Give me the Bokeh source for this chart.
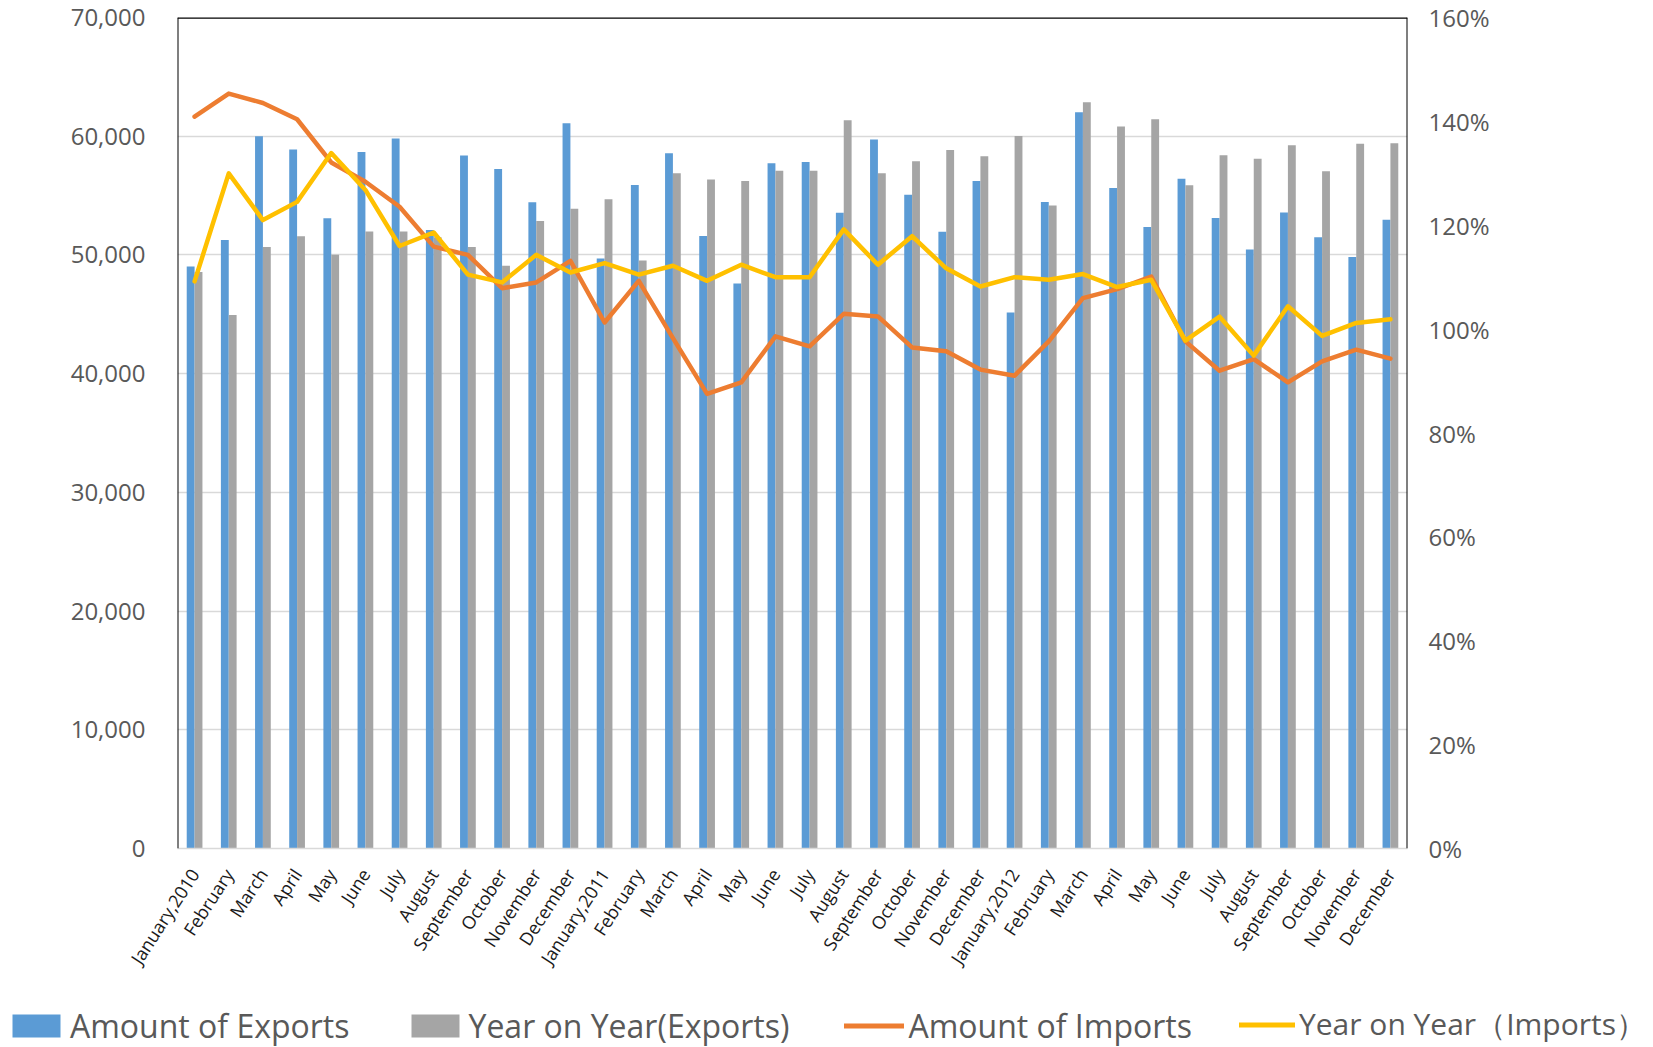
import numpy as np
from bokeh.plotting import figure
from bokeh.models import (Range1d, LinearAxis, FixedTicker, NumeralTickFormatter,
                          PrintfTickFormatter, Span, Legend, LegendItem, ColumnDataSource)
from bokeh.embed import file_html
from bokeh.resources import INLINE

months = ["January,2010", "February", "March", "April", "May", "June", "July", "August",
          "September", "October", "November", "December",
          "January,2011", "February", "March", "April", "May", "June", "July", "August",
          "September", "October", "November", "December",
          "January,2012", "February", "March", "April", "May", "June", "July", "August",
          "September", "October", "November", "December"]

# Amount of Exports (left axis)
exports = [49020, 51260, 60000, 58880, 53080, 58660, 59800, 52100, 58380, 57230, 54430, 61090,
           49690, 55880, 58570, 51600, 47590, 57730, 57820, 53560, 59720, 55070, 51960, 56220,
           45150, 54450, 62020, 55630, 52350, 56410, 53110, 50450, 53580, 51480, 49830, 52970]

# Year on Year (Exports) in % (right axis)
exports_yoy = [111.0, 102.7, 115.8, 117.9, 114.3, 118.8, 118.8, 117.7, 115.8, 112.2, 120.8, 123.2,
               125.0, 113.2, 130.0, 128.8, 128.5, 130.5, 130.5, 140.2, 130.0, 132.3, 134.5, 133.3,
               137.2, 123.8, 143.7, 139.0, 140.4, 127.7, 133.5, 132.8, 135.4, 130.4, 135.7, 135.8]

# Amount of Imports (left axis)
imports = [61650, 63590, 62800, 61430, 57790, 56160, 54060, 50700, 50000, 47200, 47680, 49500,
           44310, 47820, 43000, 38290, 39270, 43140, 42300, 45040, 44820, 42210, 41880, 40340,
           39830, 42720, 46360, 47120, 48180, 42720, 40250, 41230, 39270, 41040, 42020, 41260]

# Year on Year (Imports) in % (right axis)
imports_yoy = [109.2, 130.0, 121.0, 124.5, 133.9, 126.8, 116.0, 118.6, 110.5, 109.0, 114.3, 110.9,
               112.7, 110.5, 112.2, 109.3, 112.4, 110.0, 110.0, 119.2, 112.4, 117.9, 111.7, 108.2,
               110.0, 109.5, 110.6, 108.1, 109.5, 97.8, 102.4, 94.9, 104.4, 98.7, 101.2, 101.9]

left_ticks = list(range(0, 70001, 10000))
right_ticks = list(range(0, 161, 20))

series_names = ["Amount of Exports", "Year on Year(Exports)",
                "Amount of Imports", "Year on Year（Imports）"]
series_colors = ["#5B9BD5", "#A5A5A5", "#ED7D31", "#FFC000"]

n = len(months)
x = np.arange(n)
bar_w = 0.23
src = ColumnDataSource(dict(x=x, xb=x - bar_w / 2, xg=x + bar_w / 2,
                            exports=exports, exports_yoy=exports_yoy,
                            imports=imports, imports_yoy=imports_yoy))

FONT = "Open Sans"
LABEL_COLOR = "#595959"

p = figure(width=1653, height=990, output_backend="svg", toolbar_location=None,
           x_range=Range1d(-0.5, n - 0.5), y_range=Range1d(0, 70000),
           min_border_left=177, min_border_right=246, min_border_top=17, min_border_bottom=142)
p.extra_y_ranges = {"pct": Range1d(0, 160)}
p.outline_line_color = None
p.background_fill_color = "white"
p.border_fill_color = "white"

# left axis
ya = p.yaxis[0]
ya.ticker = FixedTicker(ticks=left_ticks)
ya.formatter = NumeralTickFormatter(format="0,0")
ya.axis_line_color = None
ya.major_tick_line_color = None
ya.minor_tick_line_color = None
ya.major_label_standoff = 26
ya.major_label_text_font = FONT
ya.major_label_text_font_size = "24px"
ya.major_label_text_color = LABEL_COLOR

# right axis
ra = LinearAxis(y_range_name="pct", ticker=FixedTicker(ticks=right_ticks),
                formatter=PrintfTickFormatter(format="%d%%"))
ra.axis_line_color = None
ra.major_tick_line_color = None
ra.minor_tick_line_color = None
ra.major_label_standoff = 15
ra.major_label_text_font = FONT
ra.major_label_text_font_size = "24px"
ra.major_label_text_color = LABEL_COLOR
p.add_layout(ra, "right")

# bottom axis
xa = p.xaxis[0]
xa.ticker = FixedTicker(ticks=list(range(n)))
xa.major_label_overrides = {i: m for i, m in enumerate(months)}
xa.major_label_orientation = np.deg2rad(57)
xa.major_label_text_font = FONT
xa.major_label_text_font_size = "18px"
xa.major_label_text_color = "#1a1a1a"
xa.axis_line_color = "#D9D9D9"
xa.axis_line_width = 1.5
xa.major_tick_line_color = None
xa.minor_tick_line_color = None
xa.major_label_standoff = 16

p.xgrid.grid_line_color = None
p.ygrid.ticker = FixedTicker(ticks=left_ticks)
p.ygrid.grid_line_color = "#D9D9D9"
p.ygrid.grid_line_width = 1.3

# frame borders (left, right, top)
for loc in (-0.5, n - 0.5):
    p.add_layout(Span(location=loc, dimension="height", line_color="#000000", line_width=2))
p.add_layout(Span(location=70000, dimension="width", line_color="#000000", line_width=2.5))

p.vbar(x="xb", top="exports", width=bar_w, source=src,
       fill_color=series_colors[0], line_color=None)
p.vbar(x="xg", top="exports_yoy", width=bar_w, source=src,
       fill_color=series_colors[1], line_color=None, y_range_name="pct")
p.line("x", "imports", source=src, line_color=series_colors[2], line_width=4.5,
       line_join="round", line_cap="round")
p.line("x", "imports_yoy", source=src, line_color=series_colors[3], line_width=4.5,
       line_join="round", line_cap="round", y_range_name="pct")

# legend strip below the chart (separate root, so its frame spans the full width)
pl = figure(width=1653, height=57, output_backend="svg", toolbar_location=None,
            x_range=Range1d(0, 1), y_range=Range1d(0, 1),
            x_axis_type=None, y_axis_type=None, min_border=0)
pl.outline_line_color = None
pl.background_fill_color = "white"
pl.border_fill_color = "white"
# legend proxies: one point each, placed outside the visible range
lb = pl.vbar(x=[5], top=[1], width=0.1, fill_color=series_colors[0], line_color=None)
lg = pl.vbar(x=[5], top=[1], width=0.1, fill_color=series_colors[1], line_color=None)
lo = pl.line(x=[5, 6], y=[0, 0], line_color=series_colors[2], line_width=5, line_cap="round")
ly = pl.line(x=[5, 6], y=[0, 0], line_color=series_colors[3], line_width=5, line_cap="round")

common = dict(orientation="horizontal", glyph_height=29, label_standoff=4,
              padding=0, margin=0, border_line_color=None, background_fill_alpha=0,
              label_text_font=FONT, label_text_color=LABEL_COLOR)

legend_a = Legend(items=[LegendItem(label=series_names[0], renderers=[lb]),
                         LegendItem(label=series_names[1], renderers=[lg]),
                         LegendItem(label=series_names[2], renderers=[lo])],
                  location=(6, 0), glyph_width=60, spacing=55,
                  label_text_font_size="32px", **common)
legend_b = Legend(items=[LegendItem(label=series_names[3], renderers=[ly])],
                  location=(1239, 1), glyph_width=56,
                  label_text_font_size="30px", **common)
pl.add_layout(legend_a, "center")
pl.add_layout(legend_b, "center")

open("out.html", "w").write(file_html([p, pl], INLINE))
